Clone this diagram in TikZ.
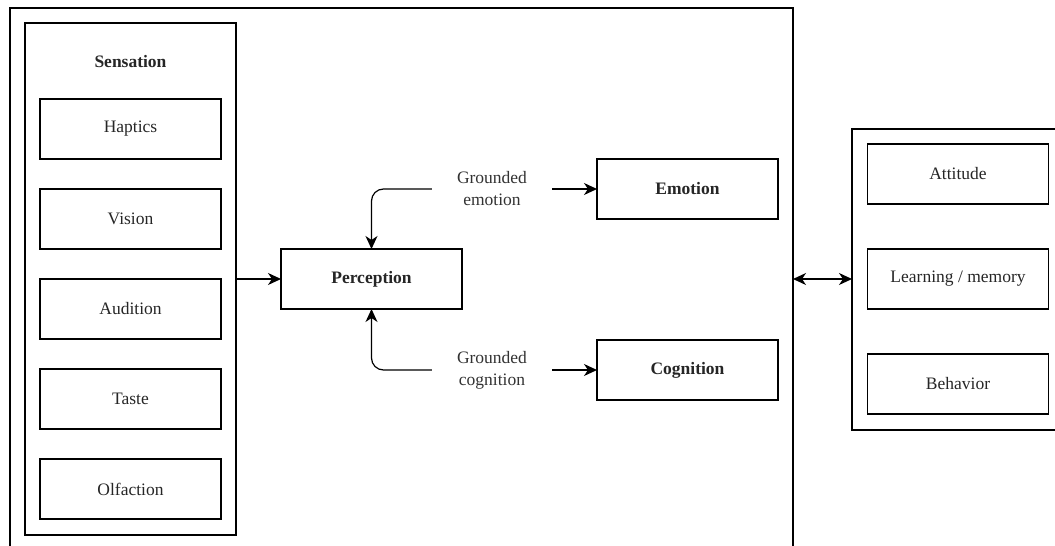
\documentclass[tikz,border=0pt]{standalone}
\usepackage{fontspec}
\setmainfont{Liberation Serif}
\usetikzlibrary{arrows.meta,positioning}

\begin{document}
\begin{tikzpicture}[x=1pt, y=-1pt,
  box/.style={draw, line width=1.2pt, minimum width=181pt, minimum height=60pt, inner sep=0pt, outer sep=0pt, font=\rmfamily\fontsize{17.5}{21}\selectfont, text=black!85},
  frame/.style={draw, line width=1.2pt, inner sep=0pt, outer sep=0pt},
  tag/.style={minimum width=120pt, inner sep=0pt, align=center, font=\rmfamily\fontsize{17.5}{22}\selectfont, text=black!80},
  arr/.style={-{Stealth[length=13pt, width=12pt, inset=4pt]}, line width=1.2pt},
  dbl/.style={{Stealth[length=13pt, width=12pt, inset=4pt]}-{Stealth[length=13pt, width=12pt, inset=4pt]}, line width=1.2pt}
]
\useasboundingbox (0,0) rectangle (1055,546);
\clip (0,0) rectangle (1055,546);

% containers
\node[frame, minimum width=783pt, minimum height=560pt] (world) at (401.5,288) {};
\node[frame, minimum width=211pt, minimum height=512pt] (sens)  at (130.5,279) {};
\node[frame, minimum width=218pt, minimum height=301pt] (resp)  at (961,279.5) {};

% sensation column
\node[font=\rmfamily\fontsize{17.5}{21}\selectfont\bfseries, text=black!85] (senstitle) at (130.5,62) {Sensation};
\node[box] (hap) at (130.5,129) {Haptics};
\node[box, below=30pt of hap] (vis) {Vision};
\node[box, below=30pt of vis] (aud) {Audition};
\node[box, below=30pt of aud] (tas) {Taste};
\node[box, below=30pt of tas] (olf) {Olfaction};

% middle
\node[box, font=\rmfamily\fontsize{17.5}{21}\selectfont\bfseries] (perc) at (371.5,279) {Perception};
\node[tag] (gemo) at (492,189) {Grounded\\emotion};
\node[tag] (gcog) at (492,370) {Grounded\\cognition};
\node[box, font=\rmfamily\fontsize{17.5}{21}\selectfont\bfseries] (emo) at (687.5,189) {Emotion};
\node[box, font=\rmfamily\fontsize{17.5}{21}\selectfont\bfseries] (cog) at (687.5,370) {Cognition};

% responses
\node[box] (att) at (958,174) {Attitude};
\node[box, below=45pt of att] (learn) {Learning / memory};
\node[box, below=45pt of learn] (behav) {Behavior};

\draw[arr] (sens.east) -- (perc.west);
\draw[arr, rounded corners=12pt] (gemo.west) -| (perc.north);
\draw[arr, rounded corners=12pt] (gcog.west) -| (perc.south);
\draw[arr] (gemo.east) -- (emo.west);
\draw[arr] (gcog.east) -- (cog.west);
\draw[dbl] (learn -| world.east) -- (learn -| resp.west);
\end{tikzpicture}
\end{document}
